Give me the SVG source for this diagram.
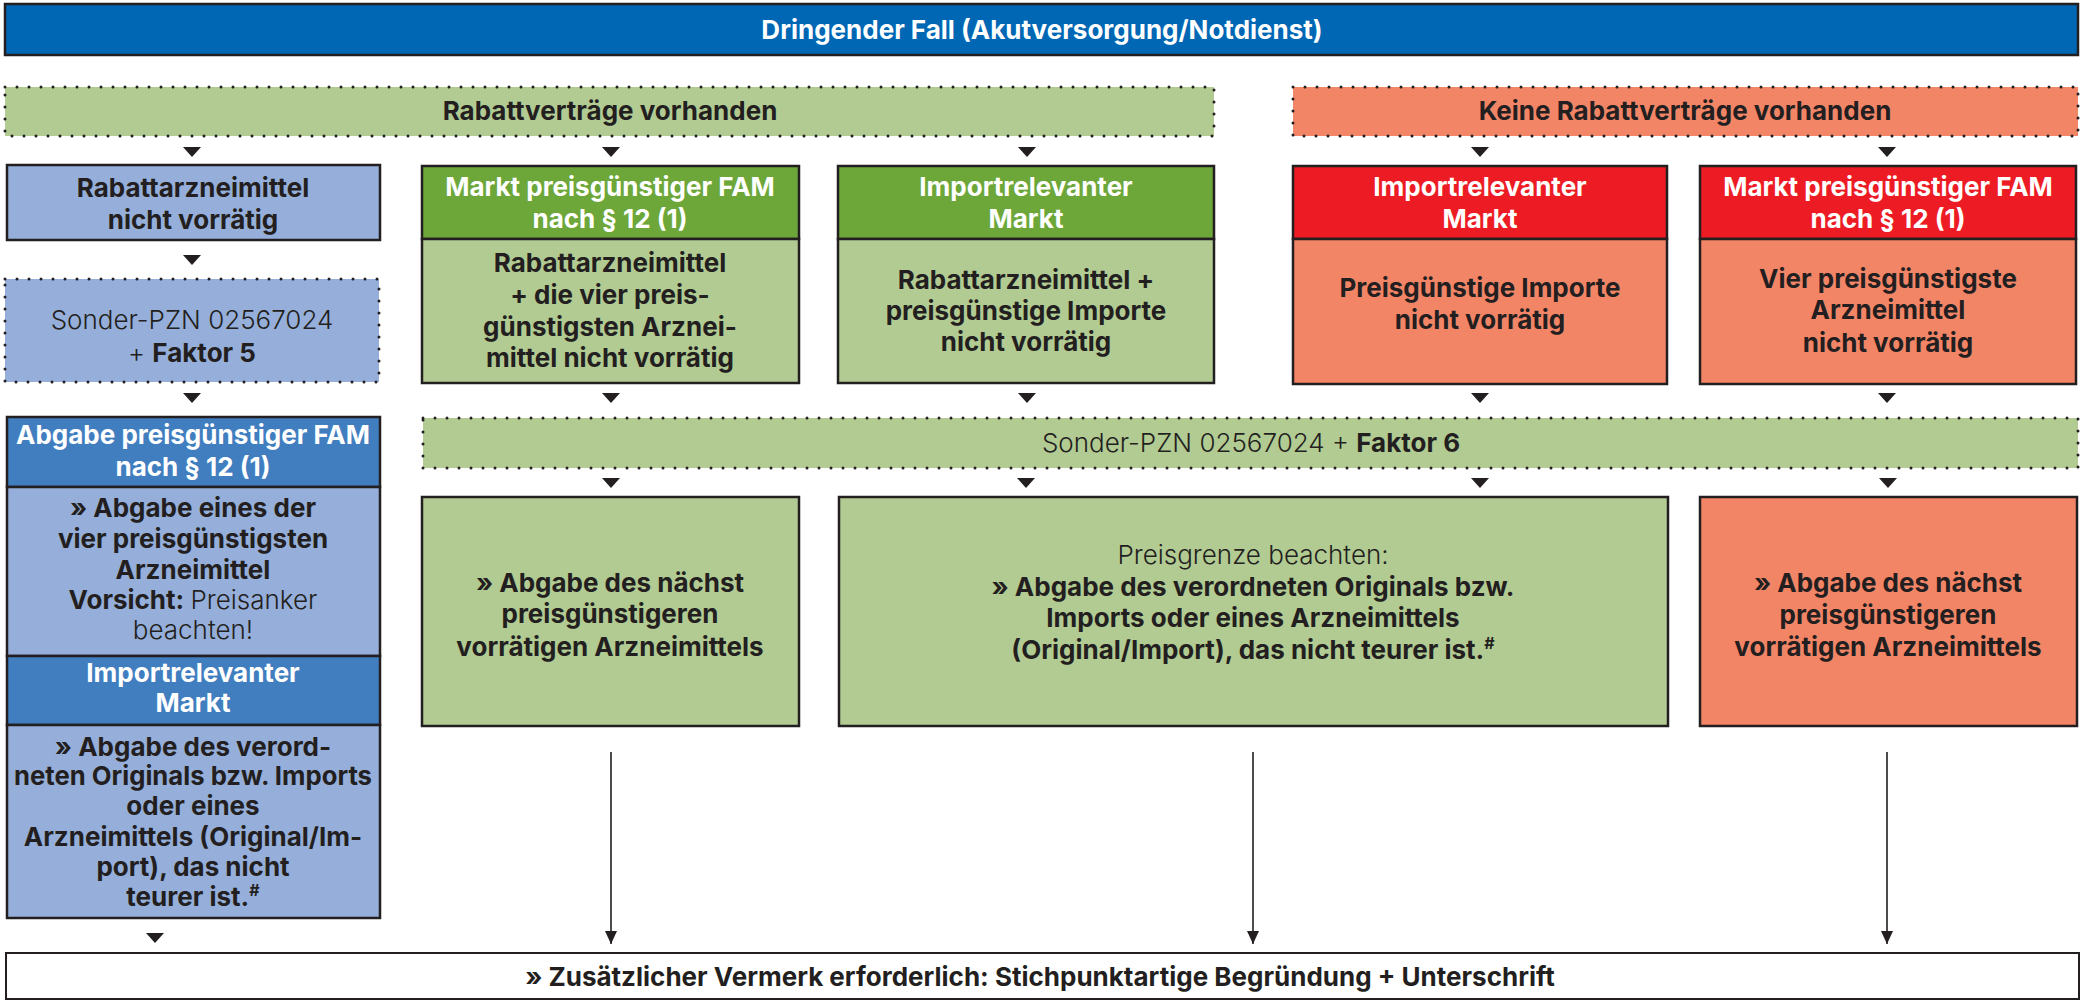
<svg xmlns="http://www.w3.org/2000/svg" width="2086" height="1001" viewBox="0 0 2086 1001">
<style>
text{font-family:Inter,"Liberation Sans","Noto Sans",sans-serif;font-size:26px;text-anchor:middle;fill:#231F20}
.b{font-weight:700}
.l{font-weight:300}
.w{font-weight:700;fill:#fff}
.box{stroke:#231F20;stroke-width:2.5}
.dot{stroke:#231F20;stroke-width:3;stroke-dasharray:0 12;stroke-linecap:round}
.lb{fill:#95AFDA}.hb{fill:#417EC0}
.lg{fill:#B2CB93}.hg{fill:#6DA73A}
.sr{fill:#F38567}.hr{fill:#ED1C24}
.ln{stroke:#231F20;stroke-width:1.6;fill:none}
.sup{font-size:16px}
</style>
<defs>
<path id="tri" d="M-9,0 L9,0 L0,10 Z" fill="#231F20"/>
<marker id="ah" markerWidth="13" markerHeight="12" refX="13" refY="6" orient="auto" markerUnits="userSpaceOnUse" viewBox="0 0 13 12">
<path d="M0,0 L13,6 L0,12 Z" fill="#231F20"/>
</marker>
</defs>

<g id="top">
<rect class="box" x="5" y="4" width="2073" height="51" fill="#0067B4"/>
<text class="w" x="1042" y="39">Dringender Fall (Akutversorgung/Notdienst)</text>
</g>

<g id="rabatt-ja">
<rect class="lg" x="5" y="87" width="1209" height="49"/>
<rect class="dot" x="5" y="87" width="1209" height="49" fill="none"/>
<text class="b" x="610" y="120">Rabattverträge vorhanden</text>
</g>

<g id="rabatt-nein">
<rect class="sr" x="1293" y="87" width="785" height="49"/>
<rect class="dot" x="1293" y="87" width="785" height="49" fill="none"/>
<text class="b" x="1685" y="120">Keine Rabattverträge vorhanden</text>
</g>

<g id="left-1">
<rect class="box lb" x="7" y="165" width="373" height="75"/>
<text class="b" x="193" y="197">Rabattarzneimittel</text>
<text class="b" x="193" y="229">nicht vorrätig</text>
</g>

<g id="left-2">
<rect class="lb" x="5" y="279" width="374" height="103"/>
<rect class="dot" x="5" y="279" width="374" height="103" fill="none"/>
<text class="l" x="192" y="329">Sonder-PZN 02567024</text>
<text x="192" y="362"><tspan class="l">+ </tspan><tspan class="b">Faktor 5</tspan></text>
</g>

<g id="left-3">
<rect class="box hb" x="7" y="417" width="373" height="70"/>
<text class="w" x="193" y="444">Abgabe preisgünstiger FAM</text>
<text class="w" x="193" y="476">nach § 12 (1)</text>
<rect class="box lb" x="7" y="487" width="373" height="169"/>
<text class="b" x="193" y="517">» Abgabe eines der</text>
<text class="b" x="193" y="548">vier preisgünstigsten</text>
<text class="b" x="193" y="579">Arzneimittel</text>
<text x="193" y="609"><tspan class="b">Vorsicht: </tspan><tspan class="l">Preisanker</tspan></text>
<text class="l" x="193" y="639">beachten!</text>
<rect class="box hb" x="7" y="656" width="373" height="69"/>
<text class="w" x="193" y="682">Importrelevanter</text>
<text class="w" x="193" y="712">Markt</text>
<rect class="box lb" x="7" y="725" width="373" height="193"/>
<text class="b" x="193" y="756">» Abgabe des verord-</text>
<text class="b" x="193" y="785" textLength="358" lengthAdjust="spacingAndGlyphs">neten Originals bzw. Imports</text>
<text class="b" x="193" y="815">oder eines</text>
<text class="b" x="193" y="846">Arzneimittels (Original/Im-</text>
<text class="b" x="193" y="876">port), das nicht</text>
<text class="b" x="193" y="906">teurer ist.<tspan class="sup" dy="-10">#</tspan></text>
</g>

<g id="green-1">
<rect class="box hg" x="422" y="166" width="377" height="73"/>
<text class="w" x="610" y="196">Markt preisgünstiger FAM</text>
<text class="w" x="610" y="228">nach § 12 (1)</text>
<rect class="box lg" x="422" y="239" width="377" height="144"/>
<text class="b" x="610" y="272">Rabattarzneimittel</text>
<text class="b" x="610" y="304">+ die vier preis-</text>
<text class="b" x="610" y="336">günstigsten Arznei-</text>
<text class="b" x="610" y="367">mittel nicht vorrätig</text>
</g>

<g id="green-2">
<rect class="box hg" x="838" y="166" width="376" height="73"/>
<text class="w" x="1026" y="196">Importrelevanter</text>
<text class="w" x="1026" y="228">Markt</text>
<rect class="box lg" x="838" y="239" width="376" height="144"/>
<text class="b" x="1026" y="289">Rabattarzneimittel +</text>
<text class="b" x="1026" y="320">preisgünstige Importe</text>
<text class="b" x="1026" y="351">nicht vorrätig</text>
</g>

<g id="red-1">
<rect class="box hr" x="1293" y="166" width="374" height="73"/>
<text class="w" x="1480" y="196">Importrelevanter</text>
<text class="w" x="1480" y="228">Markt</text>
<rect class="box sr" x="1293" y="239" width="374" height="145"/>
<text class="b" x="1480" y="297">Preisgünstige Importe</text>
<text class="b" x="1480" y="329">nicht vorrätig</text>
</g>

<g id="red-2">
<rect class="box hr" x="1700" y="166" width="376" height="73"/>
<text class="w" x="1888" y="196">Markt preisgünstiger FAM</text>
<text class="w" x="1888" y="228">nach § 12 (1)</text>
<rect class="box sr" x="1700" y="239" width="376" height="145"/>
<text class="b" x="1888" y="288">Vier preisgünstigste</text>
<text class="b" x="1888" y="319">Arzneimittel</text>
<text class="b" x="1888" y="352">nicht vorrätig</text>
</g>

<g id="sonder-6">
<rect class="lg" x="423" y="418" width="1655" height="50"/>
<rect class="dot" x="423" y="418" width="1655" height="50" fill="none"/>
<text x="1251" y="452"><tspan class="l">Sonder-PZN 02567024 + </tspan><tspan class="b">Faktor 6</tspan></text>
</g>

<g id="result-green-1">
<rect class="box lg" x="422" y="497" width="377" height="229"/>
<text class="b" x="610" y="592">» Abgabe des nächst</text>
<text class="b" x="610" y="623">preisgünstigeren</text>
<text class="b" x="610" y="656">vorrätigen Arzneimittels</text>
</g>

<g id="result-green-2">
<rect class="box lg" x="839" y="497" width="829" height="229"/>
<text class="l" x="1253" y="564">Preisgrenze beachten:</text>
<text class="b" x="1253" y="596">» Abgabe des verordneten Originals bzw.</text>
<text class="b" x="1253" y="627">Imports oder eines Arzneimittels</text>
<text class="b" x="1253" y="659">(Original/Import), das nicht teurer ist.<tspan class="sup" dy="-10">#</tspan></text>
</g>

<g id="result-red">
<rect class="box sr" x="1700" y="497" width="377" height="229"/>
<text class="b" x="1888" y="592">» Abgabe des nächst</text>
<text class="b" x="1888" y="624">preisgünstigeren</text>
<text class="b" x="1888" y="656">vorrätigen Arzneimittels</text>
</g>

<g id="vermerk">
<rect x="6" y="953" width="2073" height="46" fill="#fff" stroke="#231F20" stroke-width="2"/>
<text class="b" x="1040" y="986">» Zusätzlicher Vermerk erforderlich: Stichpunktartige Begründung + Unterschrift</text>
</g>

<g id="connectors">
<use href="#tri" x="192" y="147"/>
<use href="#tri" x="611" y="147"/>
<use href="#tri" x="1027" y="147"/>
<use href="#tri" x="1480" y="147"/>
<use href="#tri" x="1887" y="147"/>
<use href="#tri" x="192" y="255"/>
<use href="#tri" x="192" y="393"/>
<use href="#tri" x="611" y="393"/>
<use href="#tri" x="1027" y="393"/>
<use href="#tri" x="1480" y="393"/>
<use href="#tri" x="1887" y="393"/>
<use href="#tri" x="611" y="478"/>
<use href="#tri" x="1026" y="478"/>
<use href="#tri" x="1480" y="478"/>
<use href="#tri" x="1888" y="478"/>
<use href="#tri" x="155" y="933"/>
<line class="ln" x1="611" y1="752" x2="611" y2="944" marker-end="url(#ah)"/>
<line class="ln" x1="1253" y1="752" x2="1253" y2="944" marker-end="url(#ah)"/>
<line class="ln" x1="1887" y1="752" x2="1887" y2="944" marker-end="url(#ah)"/>
</g>
</svg>
